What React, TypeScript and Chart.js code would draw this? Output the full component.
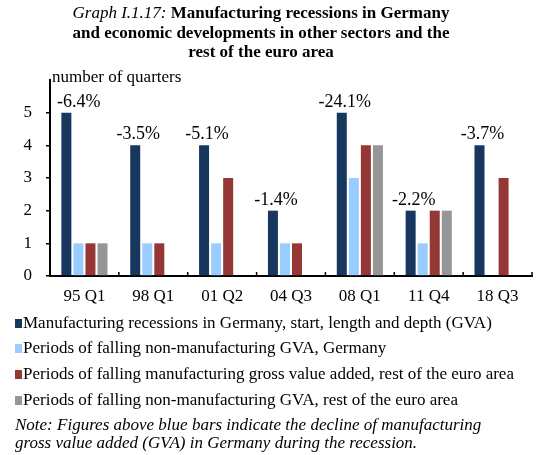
import React, { useEffect, useRef } from "react";
import { Chart, registerables } from "chart.js";

Chart.register(...registerables);

const categories = ["95 Q1", "98 Q1", "01 Q2", "04 Q3", "08 Q1", "11 Q4", "18 Q3"];
const mfgGermany = [5, 4, 4, 2, 5, 2, 4];
const nonMfgGermany = [1, 1, 1, 1, 3, 1, 0];
const mfgRestEA = [1, 1, 3, 1, 4, 2, 3];
const nonMfgRestEA = [1, 0, 0, 0, 4, 2, 0];
const declineLabels = ["-6.4%", "-3.5%", "-5.1%", "-1.4%", "-24.1%", "-2.2%", "-3.7%"];
const yTicks = [0, 1, 2, 3, 4, 5];
const seriesNames = [
  "Manufacturing recessions in Germany, start, length and depth (GVA)",
  "Periods of falling non-manufacturing GVA, Germany",
  "Periods of falling manufacturing gross value added, rest of the euro area",
  "Periods of falling non-manufacturing GVA, rest of the euro area",
];
const seriesColors = ["#17375E", "#99CCFF", "#953735", "#969696"];

const FONT = "'Liberation Serif', 'Times New Roman', serif";

const declinePlugin = {
  id: "declineLabels",
  afterDatasetsDraw(chart: any) {
    const ctx = chart.ctx;
    const meta = chart.getDatasetMeta(0);
    const area = chart.chartArea;
    ctx.save();
    ctx.font = `18px ${FONT}`;
    ctx.fillStyle = "#000";
    ctx.textAlign = "left";
    ctx.textBaseline = "alphabetic";
    meta.data.forEach((el: any, i: number) => {
      const txt = declineLabels[i];
      const w = ctx.measureText(txt).width;
      let left = el.x + 3 - w / 2;
      if (left < area.left + 7) left = area.left + 7;
      ctx.fillText(txt, left, el.y - 6);
    });
    ctx.restore();
  },
};

const xTickPlugin = {
  id: "xTicksUp",
  afterDatasetsDraw(chart: any) {
    const ctx = chart.ctx;
    const xs = chart.scales.x;
    const area = chart.chartArea;
    const n = categories.length;
    ctx.save();
    ctx.strokeStyle = "#000";
    ctx.lineWidth = 1.5;
    for (let i = 1; i <= n; i++) {
      const xb =
        i < n
          ? (xs.getPixelForValue(i - 1) + xs.getPixelForValue(i)) / 2
          : area.right;
      ctx.beginPath();
      ctx.moveTo(xb, area.bottom);
      ctx.lineTo(xb, area.bottom - 4);
      ctx.stroke();
    }
    ctx.restore();
  },
};

export default function App() {
  const ref = useRef<HTMLCanvasElement | null>(null);

  useEffect(() => {
    if (!ref.current) return;
    const datasets = [mfgGermany, nonMfgGermany, mfgRestEA, nonMfgRestEA].map((d, i) => ({
      label: seriesNames[i],
      data: d,
      backgroundColor: seriesColors[i],
      borderWidth: 0,
      categoryPercentage: 0.7,
      barPercentage: 0.83,
    }));
    const chart = new Chart(ref.current, {
      type: "bar",
      data: { labels: categories, datasets },
      options: {
        responsive: false,
        animation: false,
        layout: { padding: { top: 80, left: 0, right: 13, bottom: 139 } },
        plugins: {
          legend: { display: false },
          tooltip: { enabled: false },
          title: { display: false },
        },
        scales: {
          x: {
            grid: { display: false, drawTicks: false },
            border: { display: true, color: "#000", width: 2 },
            ticks: {
              color: "#000",
              font: { family: FONT, size: 17 },
              padding: 10,
              maxRotation: 0,
              autoSkip: false,
            },
            afterFit(scale: any) {
              scale.height = 40;
            },
          },
          y: {
            min: 0,
            max: 6,
            grid: {
              drawOnChartArea: false,
              drawTicks: true,
              tickLength: 4,
              color: "#000",
              lineWidth: 1.5,
            },
            border: { display: true, color: "#000", width: 2 },
            ticks: {
              color: "#000",
              font: { family: FONT, size: 17 },
              padding: 14,
            },
            afterBuildTicks(scale: any) {
              scale.ticks = yTicks.map((v) => ({ value: v }));
            },
            afterFit(scale: any) {
              scale.width = 50;
            },
          },
        },
      },
      plugins: [declinePlugin, xTickPlugin],
    });
    return () => chart.destroy();
  }, []);

  return (
    <div
      style={{
        position: "absolute",
        left: 0,
        top: 0,
        width: 545,
        height: 455,
        background: "#fff",
        fontFamily: FONT,
        color: "#000",
        overflow: "hidden",
      }}
    >
      <canvas ref={ref} width={545} height={455} style={{ position: "absolute", left: 0, top: 0 }} />
      <div
        style={{
          position: "absolute",
          left: 0,
          top: 3,
          width: 522,
          textAlign: "center",
          fontSize: 17,
          lineHeight: "19.5px",
          fontWeight: "bold",
        }}
      >
        <span style={{ fontStyle: "italic", fontWeight: "normal" }}>Graph I.1.17:</span> Manufacturing
        recessions in Germany
        <br />
        and economic developments in other sectors and the
        <br />
        rest of the euro area
      </div>
      <div
        style={{
          position: "absolute",
          left: 52,
          top: 67,
          fontSize: 17,
          lineHeight: "19px",
          whiteSpace: "nowrap",
        }}
      >
        number of quarters
      </div>
      <div style={{ position: "absolute", left: 15, top: 309.5, fontSize: 17, lineHeight: "25.7px" }}>
        {seriesNames.map((name, i) => (
          <div key={i} style={{ whiteSpace: "nowrap" }}>
            <span
              style={{
                display: "inline-block",
                width: 7,
                height: 9,
                background: seriesColors[i],
                marginRight: 1,
                verticalAlign: "baseline",
              }}
            />
            {name}
          </div>
        ))}
      </div>
      <div
        style={{
          position: "absolute",
          left: 15,
          top: 416,
          fontSize: 17,
          lineHeight: "18px",
          fontStyle: "italic",
          whiteSpace: "nowrap",
        }}
      >
        Note: Figures above blue bars indicate the decline of manufacturing
        <br />
        gross value added (GVA) in Germany during the recession.
      </div>
    </div>
  );
}
